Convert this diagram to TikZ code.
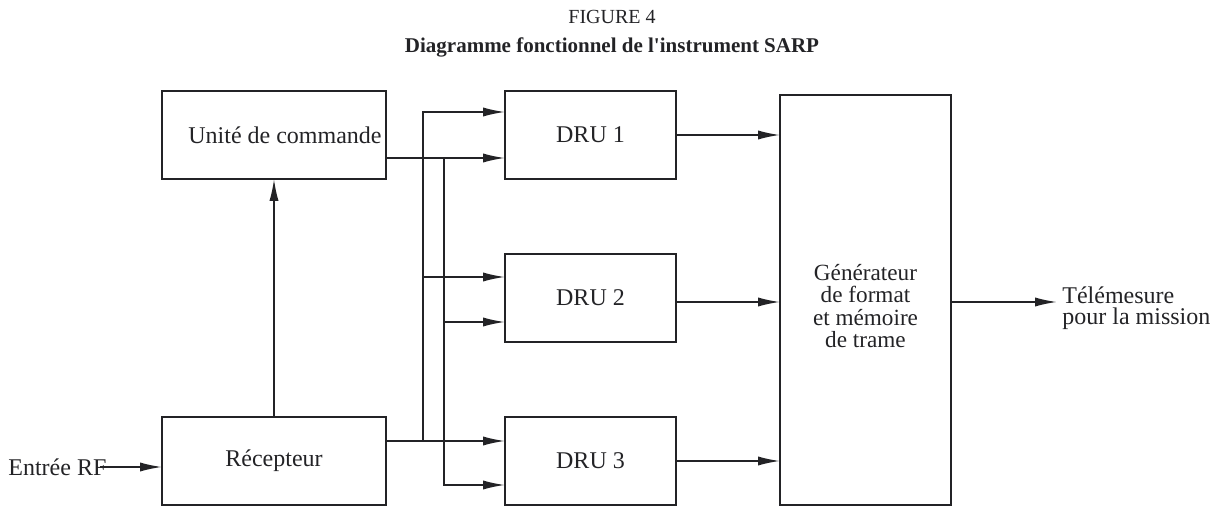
\documentclass[tikz,border=0pt]{standalone}
\usepackage{fontspec}
\setmainfont{Liberation Serif}
\usetikzlibrary{arrows.meta}
\definecolor{ink}{RGB}{35,35,38}
\tikzset{
  blk/.style={draw=ink, line width=1pt, inner sep=0pt, outer sep=0pt, text=ink,
              font=\fontsize{12}{12}\selectfont, align=center},
  conn/.style={draw=ink, line width=0.85pt},
  arr/.style={conn, -{Latex[length=11pt,width=4.6pt]}},
  lbl/.style={text=ink, inner sep=0pt, font=\fontsize{12}{10.5}\selectfont}
}
\begin{document}
\begin{tikzpicture}[x=0.5pt,y=-0.5pt]
\useasboundingbox (0,0) rectangle (1223,507);
% titles
\node[lbl, font=\fontsize{10}{12}\selectfont] (t1) at (612,17) {FIGURE 4};
\node[lbl, font=\fontsize{10.5}{12}\selectfont\bfseries] (t2) at (612,47) {Diagramme fonctionnel de l\textquotesingle instrument SARP};
% blocks
\node[blk, minimum width=112pt, minimum height=44pt] (cmd) at (274,135) {\hspace*{11pt}Unité de commande};
\node[blk, minimum width=112pt, minimum height=44pt] (rec) at (274,461) {Récepteur};
\node[blk, minimum width=85.5pt, minimum height=44pt] (dru1) at (590.5,135) {DRU 1};
\node[blk, minimum width=85.5pt, minimum height=44pt] (dru2) at (590.5,298) {DRU 2};
\node[blk, minimum width=85.5pt, minimum height=44pt] (dru3) at (590.5,461) {DRU 3};
\node[blk, minimum width=85.5pt, minimum height=205pt] (gen) at (865.5,300.5) {};
\node[lbl, align=center, font=\fontsize{11.6}{11.3}\selectfont] (gentxt) at (865.5,306) {Générateur\\de format\\et mémoire\\de trame};
% external labels
\node[lbl, anchor=west] (in) at (8,467) {Entrée RF};
\node[lbl, anchor=west, align=left] (out) at (1062,308) {Télémesure\\pour la mission};
\coordinate (inend) at (100,467);
\coordinate (outend) at (1057,302);
\coordinate (d2o) at (676,302);
% junction coordinates
\coordinate (ra) at (423,441);
\coordinate (rb) at (423,112);
\coordinate (rc) at (423,277);
\coordinate (ca) at (444,158);
\coordinate (cb) at (444,485);
\coordinate (cc) at (444,322);
% connectors
\draw[arr] (inend) -- (rec.west |- inend);
\draw[arr] (rec.north) -- (cmd.south);
\draw[arr] (rec.east |- ra) -- (dru3.west |- ra);
\draw[arr] (ra) -- (rb) -- (dru1.west |- rb);
\draw[arr] (rc) -- (dru2.west |- rc);
\draw[arr] (cmd.east |- ca) -- (dru1.west |- ca);
\draw[arr] (ca) -- (cb) -- (dru3.west |- cb);
\draw[arr] (cc) -- (dru2.west |- cc);
\draw[arr] (dru1.east) -- (gen.west |- dru1.east);
\draw[arr] (dru2.east |- d2o) -- (gen.west |- d2o);
\draw[arr] (dru3.east) -- (gen.west |- dru3.east);
\draw[arr] (gen.east |- outend) -- (outend);
\end{tikzpicture}
\end{document}
